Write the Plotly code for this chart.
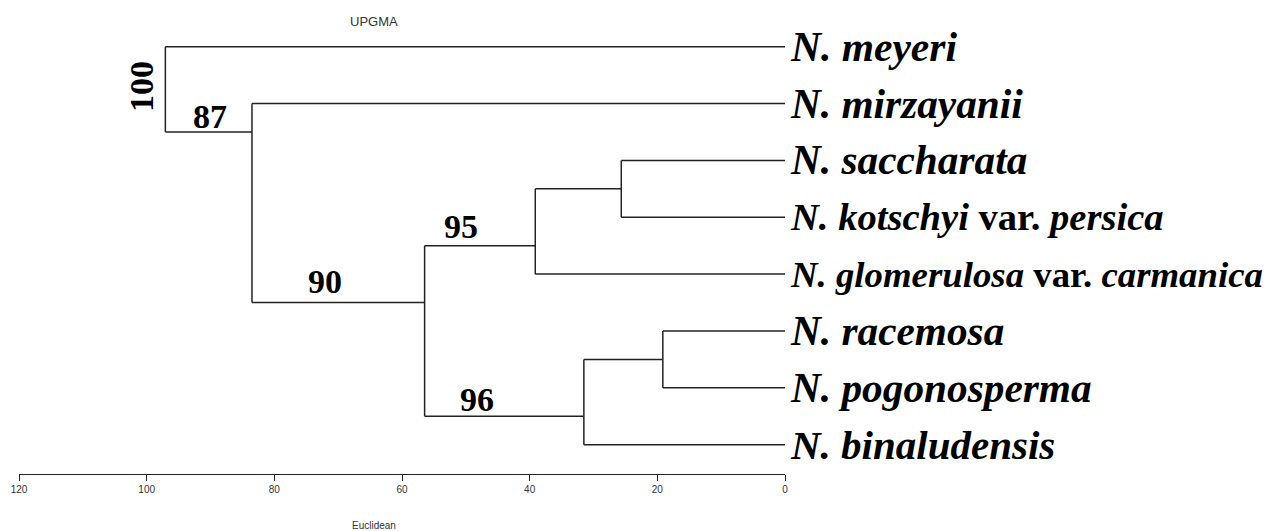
import plotly.graph_objects as go

# ---- data ----
leaf_names = [
    "<b><i>N. meyeri</i></b>",
    "<b><i>N. mirzayanii</i></b>",
    "<b><i>N. saccharata</i></b>",
    "<b><i>N. kotschyi</i></b><b> var. </b><b><i>persica</i></b>",
    "<b><i>N. glomerulosa</i></b><b> var. </b><b><i>carmanica</i></b>",
    "<b><i>N. racemosa</i></b>",
    "<b><i>N. pogonosperma</i></b>",
    "<b><i>N. binaludensis</i></b>",
]
leaf_pos = [0, 1, 2, 3, 4, 5, 6, 7]

# internal nodes (merge heights, Euclidean distance)
node_ids = ["sk", "rp", "n95", "n96", "n90", "n87", "root"]
node_left = ["L2", "L5", "sk", "rp", "n95", "L1", "L0"]
node_right = ["L3", "L6", "L4", "L7", "n96", "n90", "n87"]
node_height = [25.65, 19.14, 39.12, 31.51, 56.46, 83.5, 97.07]
node_pos = [2.5, 5.5, 3.5, 6.5, 4.5, 1.5, 0.75]

# bootstrap support values and label positions
boot_values = ["100", "87", "95", "90", "96"]
boot_x = [100.83, 90.04, 50.8, 72.0, 48.3]
boot_y = [0.703, 1.227, 3.163, 4.127, 6.21]
boot_angle = [-90, 0, 0, 0, 0]

tick_vals = [120, 100, 80, 60, 40, 20, 0]

# ---- styles ----
label_sizes = [41.5, 41.3, 41.3, 38.6, 36.8, 41.3, 41.3, 41]

# ---- build tree segments ----
pos = {f"L{i}": (0.0, leaf_pos[i]) for i in range(len(leaf_names))}
for nid, h, p in zip(node_ids, node_height, node_pos):
    pos[nid] = (h, p)

xs, ys = [], []
for nid, l, r, h in zip(node_ids, node_left, node_right, node_height):
    for c in (l, r):
        ch, cp = pos[c]
        xs += [ch, h, None]
        ys += [cp, cp, None]
    lp = pos[l][1]
    rp = pos[r][1]
    xs += [h, h, None]
    ys += [lp, rp, None]

fig = go.Figure()
fig.add_trace(go.Scatter(x=xs, y=ys, mode="lines",
                         line=dict(color="#222222", width=1.5),
                         hoverinfo="skip", showlegend=False))

serif = "Liberation Serif, Times New Roman, serif"
sans = "Liberation Sans, Arial, sans-serif"

annotations = []
for name, p, fs in zip(leaf_names, leaf_pos, label_sizes):
    annotations.append(dict(x=0, y=p, xref="x", yref="y", text=name,
                            showarrow=False, xanchor="left", yanchor="middle",
                            xshift=3, yshift=0,
                            font=dict(family=serif, size=fs, color="black")))
for t, bx, by, ang in zip(boot_values, boot_x, boot_y, boot_angle):
    annotations.append(dict(x=bx, y=by, xref="x", yref="y", text=f"<b>{t}</b>",
                            showarrow=False, xanchor="center", yanchor="middle",
                            textangle=ang,
                            font=dict(family=serif, size=34, color="black")))
annotations.append(dict(x=374, y=22, xref="paper", yref="paper", text="UPGMA",
                        showarrow=False, font=dict(family=sans, size=13, color="#333")))
annotations.append(dict(x=374, y=526, xref="paper", yref="paper", text="Euclidean",
                        showarrow=False, font=dict(family=sans, size=10, color="#333")))

W, H = 1271, 531
ml, mr, mt, mb = 19.3, W - 785.5, 20, H - 474.3
pw, ph = W - ml - mr, H - mt - mb
# convert pixel positions of title annotations to paper coords
for a in annotations[-2:]:
    a["x"] = (a["x"] - ml) / pw
    a["y"] = 1 - (a["y"] - mt) / ph
    a["xanchor"] = "center"
    a["yanchor"] = "middle"

fig.update_layout(
    width=W, height=H,
    margin=dict(l=ml, r=mr, t=mt, b=mb, pad=0),
    plot_bgcolor="white", paper_bgcolor="white",
    xaxis=dict(range=[120, 0], tickvals=tick_vals, ticktext=[str(v) for v in tick_vals],
               showline=True, linecolor="#222", linewidth=1.3,
               ticks="outside", ticklen=6, tickcolor="#222", tickwidth=1.3,
               showgrid=False, zeroline=False,
               tickfont=dict(family=sans, size=10, color="#333")),
    yaxis=dict(range=[7.515, -0.469], visible=False, showgrid=False, zeroline=False),
    annotations=annotations,
)

fig.write_html("out.html", config={"displayModeBar": False},
               post_script="document.body.style.margin='0';document.body.style.padding='0';document.body.style.overflow='hidden';")
